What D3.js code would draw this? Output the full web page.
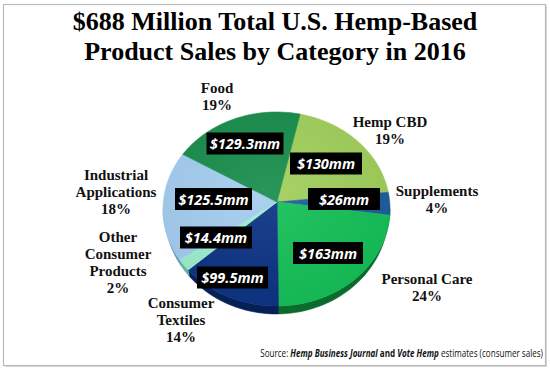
<!DOCTYPE html>
<html><head><meta charset="utf-8">
<script src="https://cdn.jsdelivr.net/npm/d3@7"></script>
<style>body{margin:0;background:#fff}svg{display:block}</style>
</head><body>
<script>
const categories = ["Hemp CBD","Supplements","Personal Care","Consumer Textiles","Other Consumer Products","Industrial Applications","Food"];
const values = [130, 26, 163, 99.5, 14.4, 125.5, 129.3];
const valueLabels = ["$130mm","$26mm","$163mm","$99.5mm","$14.4mm","$125.5mm","$129.3mm"];
const percentLabels = ["19%","4%","24%","14%","2%","18%","19%"];
const outsideLines = [["Hemp CBD"],["Supplements"],["Personal Care"],["Consumer","Textiles"],["Other","Consumer","Products"],["Industrial","Applications"],["Food"]];
const colors = ["#a2d05b","#1c5f9f","#15c158","#0c3384","#9ef0d3","#a5cef1","#178d4b"];
const sideColors = ["#6f9a3a","#0f3f6e","#0b6b2d","#061f57","#5fb79a","#6f96bb","#0d5a2f"];

const W = 550, H = 371;
const svg = d3.select("body").append("svg").attr("width", W).attr("height", H);

// frame
svg.append("rect").attr("x",5).attr("y",6).attr("width",542).attr("height",361).attr("fill","#d8d8d8");
svg.append("rect").attr("x",3.5).attr("y",4.5).attr("width",542).attr("height",361).attr("fill","#fff").attr("stroke","#b9b9b9").attr("stroke-width",1.2);

// title
const title = svg.append("text").attr("text-anchor","middle").attr("font-family","Liberation Serif, Times New Roman, serif").attr("font-weight","bold").attr("font-size",26).attr("fill","#000");
title.append("tspan").attr("x",275).attr("y",30).text("$688 Million Total U.S. Hemp-Based");
title.append("tspan").attr("x",275).attr("y",60).text("Product Sales by Category in 2016");

// pie geometry
const cx = 276.5, cy = 209, rx = 113.5, ry = 97;
const ax = 277, ay = 202;
const bcx = 276.5, bcy = 213, brx = 112, bry = 101;
const deg = Math.PI/180;
const pie = d3.pie().sort(null).value(d => d).startAngle(12*deg).endAngle(372*deg);
const arcs = pie(values);
const pt = (a, X=cx, Y=cy, RX=rx, RY=ry) => [X + RX*Math.sin(a), Y - RY*Math.cos(a)];

// side (depth) for front half
const g = svg.append("g");
arcs.forEach((d,i) => {
  let a0 = d.startAngle, a1 = d.endAngle;
  const lo = 90*deg, hi = 270*deg;
  const segs = [];
  [0, 2*Math.PI, -2*Math.PI].forEach(off => {
    const s = Math.max(a0+off, lo), e = Math.min(a1+off, hi);
    if (e > s) segs.push([s,e]);
  });
  segs.forEach(([s,e]) => {
    const n = 30;
    const top = d3.range(n+1).map(k => pt(s + (e-s)*k/n));
    const bot = d3.range(n+1).map(k => pt(s + (e-s)*k/n, bcx, bcy, brx, bry)).reverse();
    g.append("path").attr("d", d3.line()(top.concat(bot)) + "Z").attr("fill", sideColors[i]).attr("stroke", sideColors[i]).attr("stroke-width",0.5);
  });
});

// top slices
arcs.forEach((d,i) => {
  const n = 60;
  const pts = [[ax,ay]].concat(d3.range(n+1).map(k => pt(d.startAngle + (d.endAngle-d.startAngle)*k/n)));
  g.append("path").attr("d", d3.line()(pts)+"Z").attr("fill", colors[i]).attr("stroke", colors[i]).attr("stroke-width",0.6);
});

// subtle sheen
const defs = svg.append("defs");
const rg = defs.append("radialGradient").attr("id","sheen").attr("cx","45%").attr("cy","40%").attr("r","65%");
rg.append("stop").attr("offset","0%").attr("stop-color","#fff").attr("stop-opacity",0.08);
rg.append("stop").attr("offset","100%").attr("stop-color","#000").attr("stop-opacity",0.06);
g.append("ellipse").attr("cx",cx).attr("cy",cy).attr("rx",rx).attr("ry",ry).attr("fill","url(#sheen)");

// value boxes
const boxPos = [[326,163.5],[344,199],[328,253],[232.5,277.5],[216,237.5],[213.5,199],[245,143.5]];
const boxW = [72,72,70,71,72,77,77];
valueLabels.forEach((t,i) => {
  const [x,y] = boxPos[i];
  svg.append("rect").attr("x", x - boxW[i]/2).attr("y", y - 11).attr("width", boxW[i]).attr("height", 22).attr("fill","#000");
  svg.append("text").attr("x", x).attr("y", y + 5.5).attr("text-anchor","middle")
    .attr("font-family","Open Sans, sans-serif").attr("font-weight","bold").attr("font-style","italic").attr("font-size",14.5).attr("fill","#fff").text(t);
});

// outside labels
const outPos = [[390,127],[437,196],[427,284],[181,308],[118,242],[116,180],[217,93]];
categories.forEach((c,i) => {
  const lines = outsideLines[i].concat([percentLabels[i]]);
  const t = svg.append("text").attr("text-anchor","middle").attr("font-family","Liberation Serif, Times New Roman, serif").attr("font-weight","bold").attr("font-size",15).attr("fill","#111");
  lines.forEach((l,k) => t.append("tspan").attr("x", outPos[i][0]).attr("y", outPos[i][1] + k*17).text(l));
});

// source
const src = svg.append("text").attr("transform","translate(543,357) scale(0.77,1)").attr("x",0).attr("y",0).attr("text-anchor","end").attr("font-family","Open Sans, sans-serif").attr("font-size",10.5).attr("fill","#111");
src.append("tspan").text("Source: ");
src.append("tspan").attr("font-weight","bold").attr("font-style","italic").text("Hemp Business Journal");
src.append("tspan").attr("font-weight","bold").text(" and ");
src.append("tspan").attr("font-weight","bold").attr("font-style","italic").text("Vote Hemp");
src.append("tspan").text(" estimates (consumer sales)");
</script>
</body></html>
